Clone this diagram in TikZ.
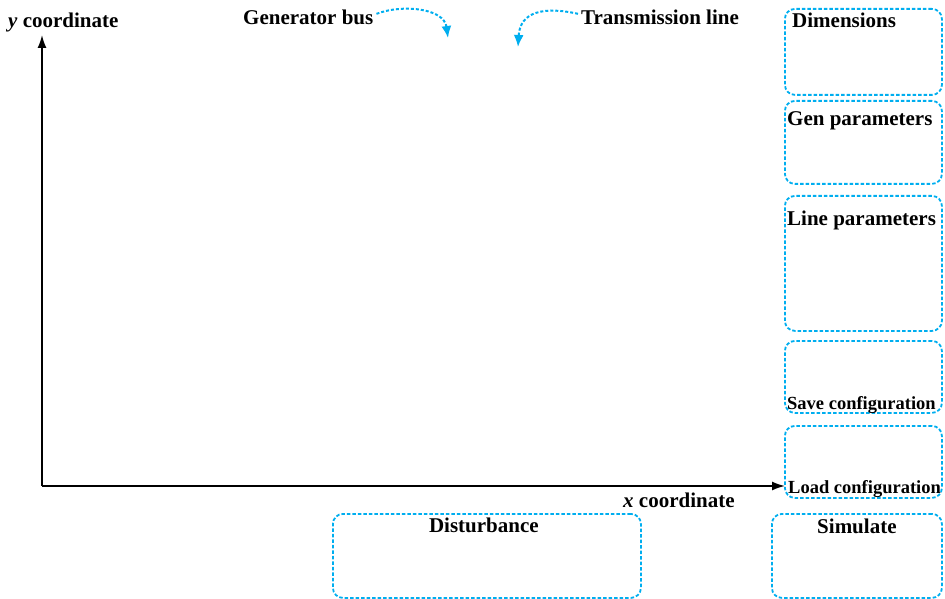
\documentclass[tikz,border=0pt]{standalone}
\usepackage{fontspec}
\setmainfont{Liberation Serif}
\usetikzlibrary{arrows.meta, positioning}
\definecolor{panelcyan}{RGB}{0,174,239}

\begin{document}
\begin{tikzpicture}[x=1pt, y=1pt,
  panel/.style={draw=panelcyan, line width=1.8pt, dash pattern=on 3.5pt off 2pt, rounded corners=10pt, anchor=north west, inner sep=0pt},
  lbl/.style={font=\bfseries\fontsize{21}{25}\selectfont, inner sep=0pt, anchor=base west},
  smalllbl/.style={lbl, font=\bfseries\fontsize{18.5}{22}\selectfont},
  cue/.style={draw=panelcyan, line width=2pt, dash pattern=on 3pt off 2pt, -{Latex[length=12pt,width=10pt]}},
  axis/.style={line width=1.6pt, -{Latex[length=13pt,width=9pt]}}]
\useasboundingbox (0,0) rectangle (945,598);

% Axes
\coordinate (O) at (42,112);
\coordinate (ytip) at (42,563);
\coordinate (xtip) at (785,112);
\draw[axis] (O) -- (ytip);
\draw[axis] (O) -- (xtip);
\node[lbl] (ylab) at (8,570) {\textit{y} coordinate};
\node[lbl] (xlab) at (623,91) {\textit{x} coordinate};

% Pointers to bus and line
\node[lbl] (bus) at (243,573) {Generator bus};
\node[lbl] (tl) at (581,573) {Transmission line};
\coordinate (bustip) at (448,560);
\coordinate (tltip) at (518,551);
\draw[cue] ([shift={(3,4)}]bus.east) .. controls (402,594) and (444,590) .. (bustip);
\draw[cue] ([shift={(-3,4)}]tl.west) .. controls (543,592) and (520,586) .. (tltip);

% Side panels
\node[panel, minimum width=157, minimum height=86] (dims) at (784,590) {};
\node[panel, minimum width=157, minimum height=83] (gen) at (784,498) {};
\node[panel, minimum width=157, minimum height=135] (line) at (784,403) {};
\node[panel, minimum width=157, minimum height=72] (save) at (784,258) {};
\node[panel, minimum width=157, minimum height=72] (load) at (784,173) {};
\node[lbl] (dimsT) at ([shift={(8,-20)}]dims.north west) {Dimensions};
\node[lbl] (genT) at ([shift={(3,-26)}]gen.north west) {Gen parameters};
\node[lbl] (lineT) at ([shift={(3,-31)}]line.north west) {Line parameters};
\node[smalllbl] (saveT) at ([shift={(3,4)}]save.south west) {Save configuration};
\node[smalllbl] (loadT) at ([shift={(4,5)}]load.south west) {Load configuration};

% Bottom panels
\node[panel, minimum width=308, minimum height=84] (dist) at (332,85) {};
\node[panel, minimum width=170, minimum height=84] (sim) at (771,85) {};
\node[lbl, anchor=base] (distT) at ([shift={(-3,-19)}]dist.north) {Disturbance};
\node[lbl, anchor=base] (simT) at ([shift={(0,-20)}]sim.north) {Simulate};
\end{tikzpicture}
\end{document}
